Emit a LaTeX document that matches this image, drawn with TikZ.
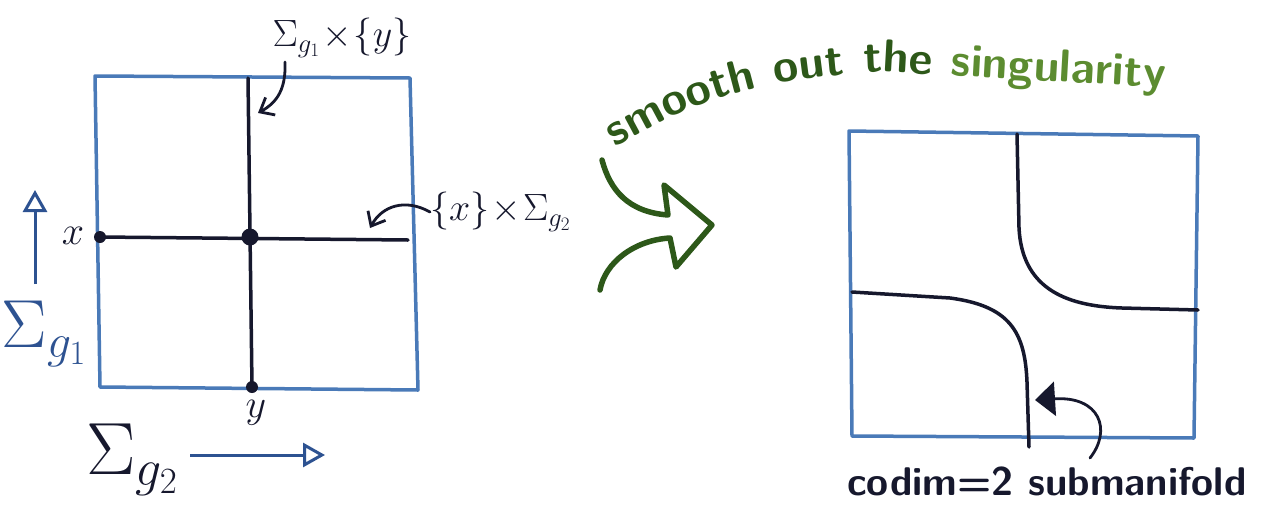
\RequirePackage{fix-cm}
\documentclass[tikz,border=0pt]{standalone}
\usepackage{fontspec}
\usetikzlibrary{arrows.meta,decorations.text}
\definecolor{boxblue}{RGB}{74,122,184}
\definecolor{ink}{RGB}{22,24,45}
\definecolor{labelblue}{RGB}{45,82,145}
\definecolor{dg}{RGB}{45,88,25}
\definecolor{lg}{RGB}{92,140,48}
\tikzset{
  frame/.style={draw=boxblue, line width=3.5pt, line join=round},
  curve/.style={draw=ink, line width=3.5pt, line cap=round},
  pointer/.style={draw=ink, line width=2.8pt, line cap=round, -{Straight Barb[length=12pt,width=20pt]}},
  axisarrow/.style={draw=labelblue, line width=3pt, -{Triangle[open,length=22pt,width=24pt]}},
  dot/.style={circle, fill=ink, inner sep=0pt, minimum size=#1},
  mathlbl/.style={text=ink, inner sep=0pt, font=\fontsize{38}{44}\selectfont},
  biglbl/.style={inner sep=0pt, font=\fontsize{#1}{#1}\selectfont},
  greenarrow/.style={draw=dg, line width=5.5pt, line join=round, line cap=round}
}
\begin{document}
\begin{tikzpicture}[x=1pt,y=-1pt]
\useasboundingbox (0,0) rectangle (1269,504);
\fill[white] (0,0) rectangle (1269,504);

% ---- left picture ----
\coordinate (L1) at (95,76);
\coordinate (L2) at (410,78);
\coordinate (L3) at (418,390);
\coordinate (L4) at (100,387);
\draw[frame] (L1) -- (L2) -- (L3) -- (L4) -- cycle;

\coordinate (vt) at (248,78);
\coordinate (vb) at (252,387);
\coordinate (hl) at (100,237);
\coordinate (hr) at (408,240);
\draw[curve] (vt) -- (vb);
\draw[curve] (hl) -- (hr);
\node[dot=12pt] (px) at (100,237) {};
\node[dot=17pt] (pc) at (250,237) {};
\node[dot=12pt] (py) at (252,387) {};

\node[mathlbl] (lab1) at (342,38) {$\Sigma_{g_1}\!\times\!\{y\}$};
\coordinate (t1) at (258,113);
\draw[pointer] (285,62) .. controls (286,88) and (278,102) .. (t1);

\node[mathlbl, anchor=west] (lab2) at (430,212) {$\{x\}\!\times\!\Sigma_{g_2}$};
\coordinate (t2) at (370,228);
\draw[pointer] (lab2.west) .. controls (405,198) and (382,206) .. (t2);

\node[text=ink, inner sep=0pt, font=\fontsize{40}{40}\selectfont] (xl) at (73,236) {$x$};
\node[text=ink, inner sep=0pt, font=\fontsize{40}{40}\selectfont] (yl) at (256,413) {$y$};

\coordinate (ua1) at (35,284);
\coordinate (ua2) at (35,190);
\draw[axisarrow] (ua1) -- (ua2);
\node[biglbl=68, text=labelblue] (sg1) at (44,334) {$\Sigma_{g_1}$};

\coordinate (ra1) at (190,455);
\coordinate (ra2) at (325,455);
\draw[axisarrow] (ra1) -- (ra2);
\node[biglbl=74, text=ink] (sg2) at (132,460) {$\Sigma_{g_2}$};

% ---- green arrow and text ----
\draw[greenarrow] (602,160) .. controls (610,190) and (628,212) .. (668,215)
  -- (664,185) -- (712,225) -- (676,267) -- (670,238)
  .. controls (635,240) and (605,262) .. (600,290);

\path[decorate, decoration={text along path, text align={fit to path stretching spaces},
  text={|\bfseries\sffamily\fontsize{46}{46}\selectfont\color{dg}|smooth out the |\bfseries\sffamily\fontsize{46}{46}\selectfont\color{lg}|singularity}}]
  (616,148) .. controls (690,100) and (770,76) .. (885,72) -- (1165,88);

% ---- right picture ----
\coordinate (R1) at (849,131);
\coordinate (R2) at (1198,136);
\coordinate (R3) at (1194,438);
\coordinate (R4) at (852,436);
\draw[frame] (R1) -- (R2) -- (R3) -- (R4) -- cycle;

\coordinate (ua) at (1017,134);
\coordinate (ub) at (1198,310);
\draw[curve] (ua) -- (1019,228) .. controls (1022,286) and (1062,306) .. (1122,308) -- (ub);
\coordinate (la) at (852,292);
\coordinate (lb) at (1029,447);
\draw[curve] (la) -- (950,298) .. controls (1010,306) and (1025,332) .. (1027,382) -- (lb);

\node[inner sep=0pt, text=ink, font=\bfseries\sffamily\fontsize{40}{40}\selectfont] (codim) at (1047,481) {codim=2 submanifold};
\coordinate (t3) at (1035,400);
\draw[draw=ink, line width=2.8pt, line cap=round, -{Triangle[length=20pt,width=34pt]}]
  (1090,458) .. controls (1112,430) and (1100,396) .. (t3);
\end{tikzpicture}
\end{document}
